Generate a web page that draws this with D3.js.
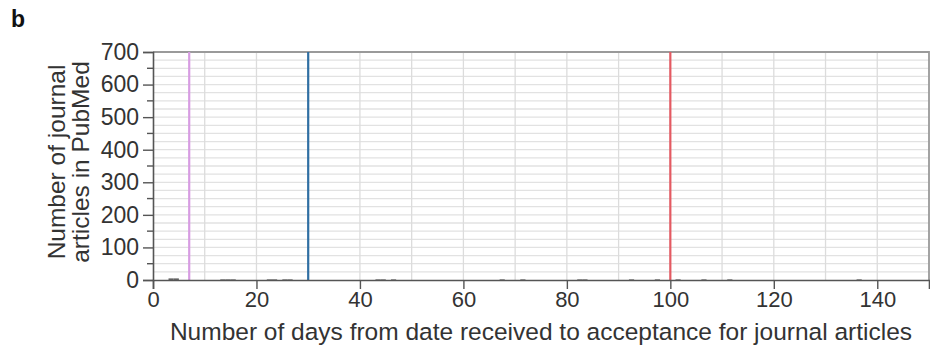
<!DOCTYPE html>
<html>
<head>
<meta charset="utf-8">
<script src="https://cdn.jsdelivr.net/npm/d3@7"></script>
<style>
  html, body { margin: 0; padding: 0; background: #fff; }
  svg { display: block; font-family: "Liberation Sans", Arial, Helvetica, sans-serif; }
</style>
</head>
<body>
<svg id="chart" width="930" height="354"></svg>
<script>
// Histogram of days from receipt to acceptance (1-day bins)
const binDays   = [3, 4, 13, 14, 15, 22, 23, 25, 26, 43, 44, 46, 67, 71, 82, 83, 92, 97, 101, 106, 111, 136];
const binCounts = [5, 5, 2, 2, 2, 2, 2, 2, 2, 2, 2, 2, 2, 2, 2, 2, 2, 2, 2, 2, 2, 2];

// Reference thresholds (days)
const markerDays   = [7, 30, 100];
const markerColors = ["#d79ce2", "#2f6fa3", "#e45a62"];

const xTicks = [0, 20, 40, 60, 80, 100, 120, 140];
const yTicks = [0, 100, 200, 300, 400, 500, 600, 700];
const yMinorTicks = [50, 150, 250, 350, 450, 550, 650];

(function () {
  const svg = d3.select("#chart");
  const plotLeft = 153, plotRight = 929, plotTop = 52, plotBottom = 280;
  const fontFamily = '"Liberation Sans", Arial, Helvetica, sans-serif';

  const x = d3.scaleLinear().domain([0, 150]).range([plotLeft, plotRight]);
  const y = d3.scaleLinear().domain([0, 700]).range([plotBottom, plotTop]);

  // Horizontal grid every 25
  svg.append("g")
    .selectAll("line")
    .data(d3.range(25, 701, 25))
    .join("line")
    .attr("x1", plotLeft).attr("x2", plotRight)
    .attr("y1", d => y(d)).attr("y2", d => y(d))
    .attr("stroke", "#e2e2e2").attr("stroke-width", 1.3);

  // Vertical grid every 10
  svg.append("g")
    .selectAll("line")
    .data(d3.range(10, 150, 10))
    .join("line")
    .attr("x1", d => x(d)).attr("x2", d => x(d))
    .attr("y1", plotTop).attr("y2", plotBottom)
    .attr("stroke", "#dcdcdc").attr("stroke-width", 1.3);

  // Frame (top and right)
  svg.append("path")
    .attr("d", `M${plotLeft},${plotTop}H${plotRight}V${plotBottom}`)
    .attr("fill", "none").attr("stroke", "#9a9a9a").attr("stroke-width", 1.8);

  // Histogram bars
  svg.append("g")
    .selectAll("rect")
    .data(binDays.map((d, i) => ({ day: d, count: binCounts[i] })))
    .join("rect")
    .attr("x", d => x(d.day))
    .attr("width", d => x(d.day + 1) - x(d.day))
    .attr("y", d => y(d.count))
    .attr("height", d => y(0) - y(d.count))
    .attr("fill", "#666");

  // Threshold lines
  svg.append("g")
    .selectAll("line")
    .data(markerDays)
    .join("line")
    .attr("x1", d => x(d)).attr("x2", d => x(d))
    .attr("y1", plotTop).attr("y2", plotBottom)
    .attr("stroke", (d, i) => markerColors[i])
    .attr("stroke-width", 2.2);

  // Y axis
  const yAxis = d3.axisLeft(y).tickValues(yTicks).tickSize(10).tickPadding(4).tickFormat(d3.format("d"));
  const gy = svg.append("g").attr("transform", `translate(${plotLeft},0)`).call(yAxis)
    .attr("font-family", fontFamily).attr("font-size", 23);
  gy.select(".domain").attr("stroke", "#555").attr("stroke-width", 1.6);
  gy.selectAll(".tick line").attr("stroke", "#555").attr("stroke-width", 1.4);
  gy.selectAll(".tick text").attr("fill", "#333");
  svg.append("g")
    .selectAll("line")
    .data(yMinorTicks)
    .join("line")
    .attr("x1", plotLeft - 6).attr("x2", plotLeft)
    .attr("y1", d => y(d)).attr("y2", d => y(d))
    .attr("stroke", "#555").attr("stroke-width", 1.4);

  // X axis
  const xAxis = d3.axisBottom(x).tickValues(xTicks).tickSize(9).tickPadding(2).tickFormat(d3.format("d"));
  const gx = svg.append("g").attr("transform", `translate(0,${plotBottom})`).call(xAxis)
    .attr("font-family", fontFamily).attr("font-size", 22);
  gx.select(".domain").attr("stroke", "#555").attr("stroke-width", 1.6);
  gx.selectAll(".tick line").attr("stroke", "#555").attr("stroke-width", 1.4);
  gx.selectAll(".tick text").attr("fill", "#333");

  // Axis titles
  svg.append("text")
    .attr("x", 541).attr("y", 340)
    .attr("text-anchor", "middle")
    .attr("fill", "#333").style("font-size", "24.5px")
    .text("Number of days from date received to acceptance for journal articles");

  const yTitle = svg.append("text")
    .attr("transform", "translate(0,162) rotate(-90)")
    .attr("text-anchor", "middle")
    .attr("fill", "#333").style("font-size", "24.5px");
  yTitle.append("tspan").attr("x", 0).attr("y", 65).text("Number of journal");
  yTitle.append("tspan").attr("x", 0).attr("y", 89).text("articles in PubMed");

  // Panel label
  svg.append("text")
    .attr("x", 11).attr("y", 27)
    .attr("fill", "#111").style("font-size", "23px").style("font-weight", "bold")
    .text("b");
})();
</script>
</body>
</html>
